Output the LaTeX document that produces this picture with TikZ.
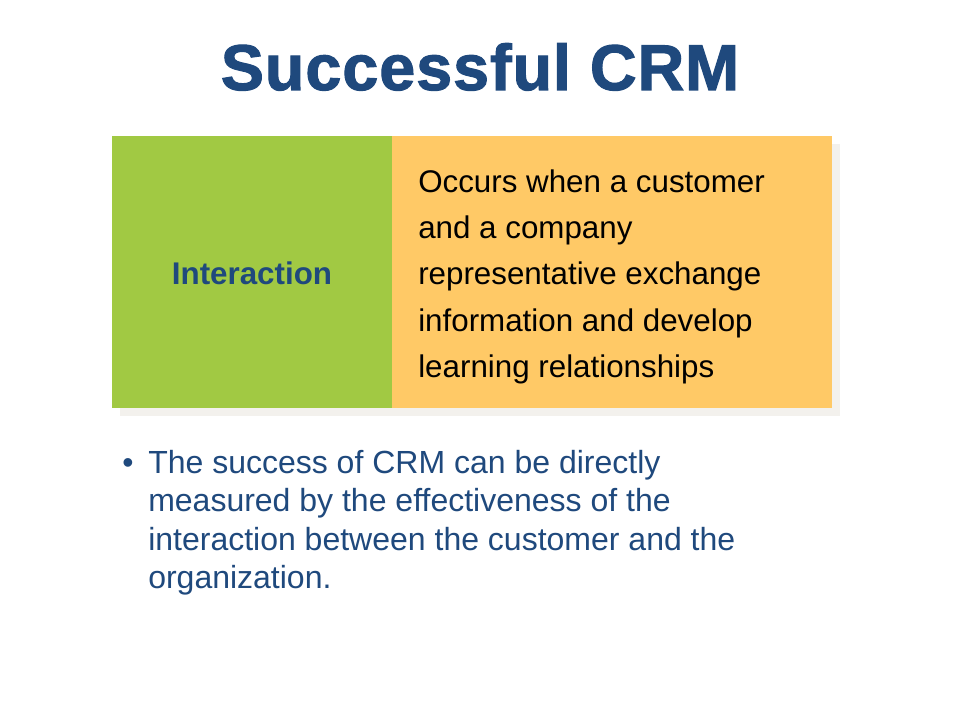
\documentclass[tikz,border=0pt]{standalone}
\usepackage{fontspec}
\setmainfont{Liberation Sans}
\newfontfamily\titlefont[FakeBold=1.7,LetterSpace=1.5]{Liberation Sans Bold}
\definecolor{crmblue}{RGB}{31,73,125}
\definecolor{crmgreen}{RGB}{161,201,67}
\definecolor{crmorange}{RGB}{255,201,102}
\definecolor{crmshadow}{RGB}{243,241,237}
\tikzset{
  panel/.style={inner sep=0pt, outer sep=0pt, anchor=north west},
  boxline/.style={inner sep=0pt, anchor=base west, font=\fontsize{23.5pt}{28pt}\selectfont, text=black},
  bulletline/.style={inner sep=0pt, anchor=base west, font=\fontsize{24pt}{29pt}\selectfont, text=crmblue},
}
\begin{document}
\begin{tikzpicture}[x=0.75pt,y=-0.75pt]
\useasboundingbox (0,0) rectangle (960,720);
\fill[white] (0,0) rectangle (960,720);
% title
\node (title) [inner sep=0pt, anchor=base, font=\fontsize{48.5pt}{58pt}\titlefont, text=crmblue] at (480,90) {Successful CRM};
% shadow and panels
\fill[crmshadow] (120,144) rectangle (840,416);
\node (green) [panel, fill=crmgreen, minimum width=210pt, minimum height=204pt] at (112,136) {};
\node (orange) [panel, fill=crmorange, minimum width=330pt, minimum height=204pt] at (392,136) {};
\node (inter) [inner sep=0pt, font=\fontsize{23.5pt}{28pt}\selectfont\bfseries, text=crmblue] at (252,273) {Interaction};
% orange text
\node (o1) [boxline] at (418,193) {Occurs when a customer};
\node (o2) [boxline] at (418,239) {and a company};
\node (o3) [boxline] at (418,285) {representative exchange};
\node (o4) [boxline] at (418,331) {information and develop};
\node (o5) [boxline] at (418,377) {learning relationships};
% bullet text
\node (dot) [bulletline] at (122,473) {•};
\node (b1) [bulletline] at (148,473) {The success of CRM can be directly};
\node (b2) [bulletline] at (148,511) {measured by the effectiveness of the};
\node (b3) [bulletline] at (148,550) {interaction between the customer and the};
\node (b4) [bulletline] at (148,588) {organization.};
\end{tikzpicture}
\end{document}
